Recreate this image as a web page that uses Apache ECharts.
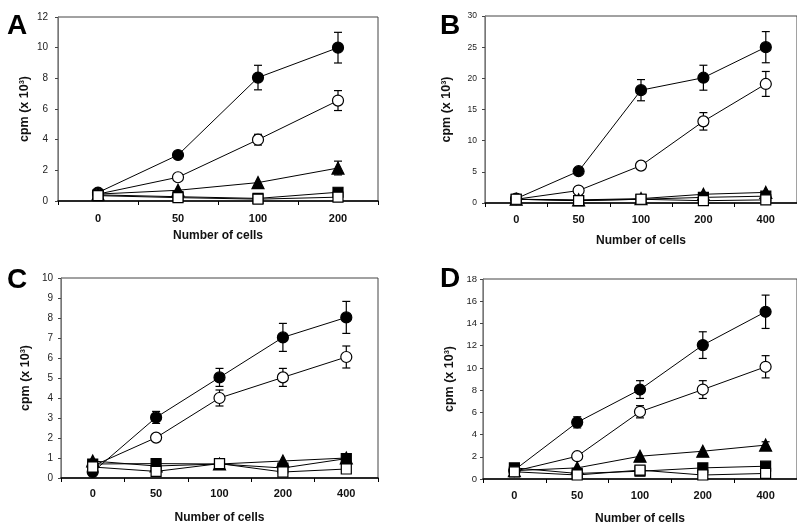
<!DOCTYPE html>
<html>
<head>
<meta charset="utf-8">
<script src="https://cdn.jsdelivr.net/npm/echarts@6/dist/echarts.min.js"></script>
<style>html,body{margin:0;padding:0;background:#fff;}#c{width:797px;height:526px;}</style>
</head>
<body>
<div id="c"></div>
<script>
// ---------- data ----------
var catsA = ['0', '50', '100', '200'];
var catsB = ['0', '50', '100', '200', '400'];
var catsC = ['0', '50', '100', '200', '400'];
var catsD = ['0', '50', '100', '200', '400'];

// Panel A
var A_fc = [0.55, 3.0, 8.05, 10.0];
var A_oc = [0.45, 1.55, 4.0, 6.55];
var A_ft = [0.45, 0.7, 1.2, 2.15];
var A_fs = [0.4, 0.28, 0.17, 0.57];
var A_os = [0.35, 0.22, 0.12, 0.25];
var A_fcErr = [0, 0.2, 0.8, 1.0];
var A_ocErr = [0, 0, 0.35, 0.65];
var A_ftErr = [0, 0, 0, 0.45];

// Panel B
var B_fc = [0.7, 5.1, 18.1, 20.1, 25.0];
var B_oc = [0.6, 2.0, 6.0, 13.1, 19.1];
var B_ft = [0.6, 0.5, 0.7, 1.4, 1.7];
var B_fs = [0.6, 0.4, 0.6, 0.9, 1.1];
var B_os = [0.6, 0.37, 0.6, 0.37, 0.5];
var B_fcErr = [0, 0.3, 1.7, 2.0, 2.5];
var B_ocErr = [0, 0, 0.4, 1.4, 2.0];
var B_ftErr = [0, 0, 0, 0, 0];

// Panel C
var C_fc = [0.3, 3.03, 5.03, 7.03, 8.03];
var C_oc = [0.6, 2.02, 4.0, 5.03, 6.05];
var C_ft = [0.85, 0.6, 0.7, 0.85, 1.0];
var C_fs = [0.7, 0.72, 0.7, 0.5, 0.97];
var C_os = [0.55, 0.33, 0.72, 0.3, 0.45];
var C_fcErr = [0, 0.3, 0.45, 0.7, 0.8];
var C_ocErr = [0, 0, 0.4, 0.45, 0.55];
var C_ftErr = [0, 0, 0, 0, 0];

// Panel D
var D_fc = [0.8, 5.1, 8.05, 12.05, 15.05];
var D_oc = [0.7, 2.05, 6.05, 8.05, 10.1];
var D_ft = [0.75, 1.0, 2.05, 2.5, 3.05];
var D_fs = [1.0, 0.5, 0.7, 1.0, 1.15];
var D_os = [0.65, 0.36, 0.8, 0.36, 0.5];
var D_fcErr = [0, 0.5, 0.8, 1.2, 1.5];
var D_ocErr = [0, 0, 0.55, 0.8, 1.0];
var D_ftErr = [0, 0, 0, 0, 0.3];

var yMax = [12, 30, 10, 18];
var yInterval = [2, 5, 1, 2];

// ---------- layout ----------
var panels = [
  {cats: catsA, fc: A_fc, oc: A_oc, ft: A_ft, fs: A_fs, os: A_os, fcE: A_fcErr, ocE: A_ocErr, ftE: A_ftErr,
   grid: {left: 58, top: 17, width: 320, height: 184}, yLab: 10, yLabM: 10, yGap: 27, xGap: 29, xLabM: 12},
  {cats: catsB, fc: B_fc, oc: B_oc, ft: B_ft, fs: B_fs, os: B_os, fcE: B_fcErr, ocE: B_ocErr, ftE: B_ftErr,
   grid: {left: 485, top: 16, width: 320, height: 187}, yLab: 8.5, yLabM: 8, yGap: 32, xGap: 32, xLabM: 11},
  {cats: catsC, fc: C_fc, oc: C_oc, ft: C_ft, fs: C_fs, os: C_os, fcE: C_fcErr, ocE: C_ocErr, ftE: C_ftErr,
   grid: {left: 61, top: 278, width: 317, height: 200}, yLab: 10, yLabM: 8, yGap: 29, xGap: 34, xLabM: 10},
  {cats: catsD, fc: D_fc, oc: D_oc, ft: D_ft, fs: D_fs, os: D_os, fcE: D_fcErr, ocE: D_ocErr, ftE: D_ftErr,
   grid: {left: 483, top: 279, width: 315, height: 201}, yLab: 9.5, yLabM: 6, yGap: 27, xGap: 34, xLabM: 11}
];

var FONT = 'Liberation Sans, Arial, sans-serif';
var grids = [], xAxes = [], yAxes = [], series = [];

function errData(vals, errs) {
  var out = [];
  for (var i = 0; i < vals.length; i++) {
    if (errs[i] > 0) out.push([i, vals[i] - errs[i], vals[i] + errs[i]]);
  }
  return out;
}

function errSeries(idx, vals, errs) {
  return {
    type: 'custom', xAxisIndex: idx, yAxisIndex: idx, z: 1, silent: true,
    data: errData(vals, errs),
    renderItem: function (params, api) {
      var x = api.value(0);
      var lo = api.coord([x, api.value(1)]);
      var hi = api.coord([x, api.value(2)]);
      var hw = 4;
      var st = {stroke: '#000', lineWidth: 1.2};
      return {type: 'group', children: [
        {type: 'line', shape: {x1: lo[0], y1: lo[1], x2: hi[0], y2: hi[1]}, style: st},
        {type: 'line', shape: {x1: hi[0] - hw, y1: hi[1], x2: hi[0] + hw, y2: hi[1]}, style: st},
        {type: 'line', shape: {x1: lo[0] - hw, y1: lo[1], x2: lo[0] + hw, y2: lo[1]}, style: st}
      ]};
    }
  };
}

function lineSeries(idx, vals, symbol, size, filled, z) {
  return {
    type: 'line', xAxisIndex: idx, yAxisIndex: idx, data: vals,
    symbol: symbol, symbolSize: size, showAllSymbol: true, z: z,
    lineStyle: {color: '#000', width: 1},
    itemStyle: {color: filled ? '#000' : '#fff', borderColor: '#000', borderWidth: 1.2, opacity: 1},
    emphasis: {disabled: true}, animation: false
  };
}

panels.forEach(function (p, i) {
  grids.push(Object.assign({show: true, borderColor: '#444', borderWidth: 1, backgroundColor: 'transparent'}, p.grid));
  xAxes.push({
    type: 'category', gridIndex: i, data: p.cats, boundaryGap: true,
    name: 'Number of cells', nameLocation: 'middle', nameGap: p.xGap,
    nameTextStyle: {fontFamily: FONT, fontSize: 12, fontWeight: 'bold', color: '#111'},
    axisLine: {show: true, lineStyle: {color: '#000', width: 1.5}},
    axisTick: {show: true, inside: false, length: 4, lineStyle: {color: '#000'}},
    axisLabel: {fontFamily: FONT, fontSize: 11, fontWeight: 'bold', color: '#111', margin: p.xLabM},
    splitLine: {show: false}
  });
  yAxes.push({
    type: 'value', gridIndex: i, min: 0, max: yMax[i], interval: yInterval[i],
    name: 'cpm (x 10³)', nameLocation: 'middle', nameGap: p.yGap, nameRotate: 90,
    nameTextStyle: {fontFamily: FONT, fontSize: 12.5, fontWeight: 'bold', color: '#111'},
    axisLine: {show: true, lineStyle: {color: '#777', width: 1}},
    axisTick: {show: true, inside: false, length: 3, lineStyle: {color: '#444'}},
    axisLabel: {fontFamily: FONT, fontSize: p.yLab, color: '#222', margin: p.yLabM},
    splitLine: {show: false}
  });
  series.push(errSeries(i, p.fc, p.fcE));
  series.push(errSeries(i, p.oc, p.ocE));
  series.push(errSeries(i, p.ft, p.ftE));
  series.push(lineSeries(i, p.fc, 'circle', 11, true, 5));
  series.push(lineSeries(i, p.oc, 'circle', 11, false, 5));
  series.push(lineSeries(i, p.ft, 'triangle', 12, true, 6));
  series.push(lineSeries(i, p.fs, 'rect', 10, true, 7));
  series.push(lineSeries(i, p.os, 'rect', 10, false, 8));
});

var letters = [['A', 7, 12], ['B', 440, 12], ['C', 7, 266], ['D', 440, 265]];
var graphic = letters.map(function (l) {
  return {type: 'text', left: l[1], top: l[2], z: 100,
    style: {text: l[0], font: 'bold 28px ' + FONT, fill: '#000'}};
});

var chart = echarts.init(document.getElementById('c'), null, {renderer: 'canvas'});
chart.setOption({
  animation: false,
  backgroundColor: '#fff',
  grid: grids, xAxis: xAxes, yAxis: yAxes, series: series, graphic: graphic,
  tooltip: {show: false}, legend: {show: false}
});
</script>
</body>
</html>
